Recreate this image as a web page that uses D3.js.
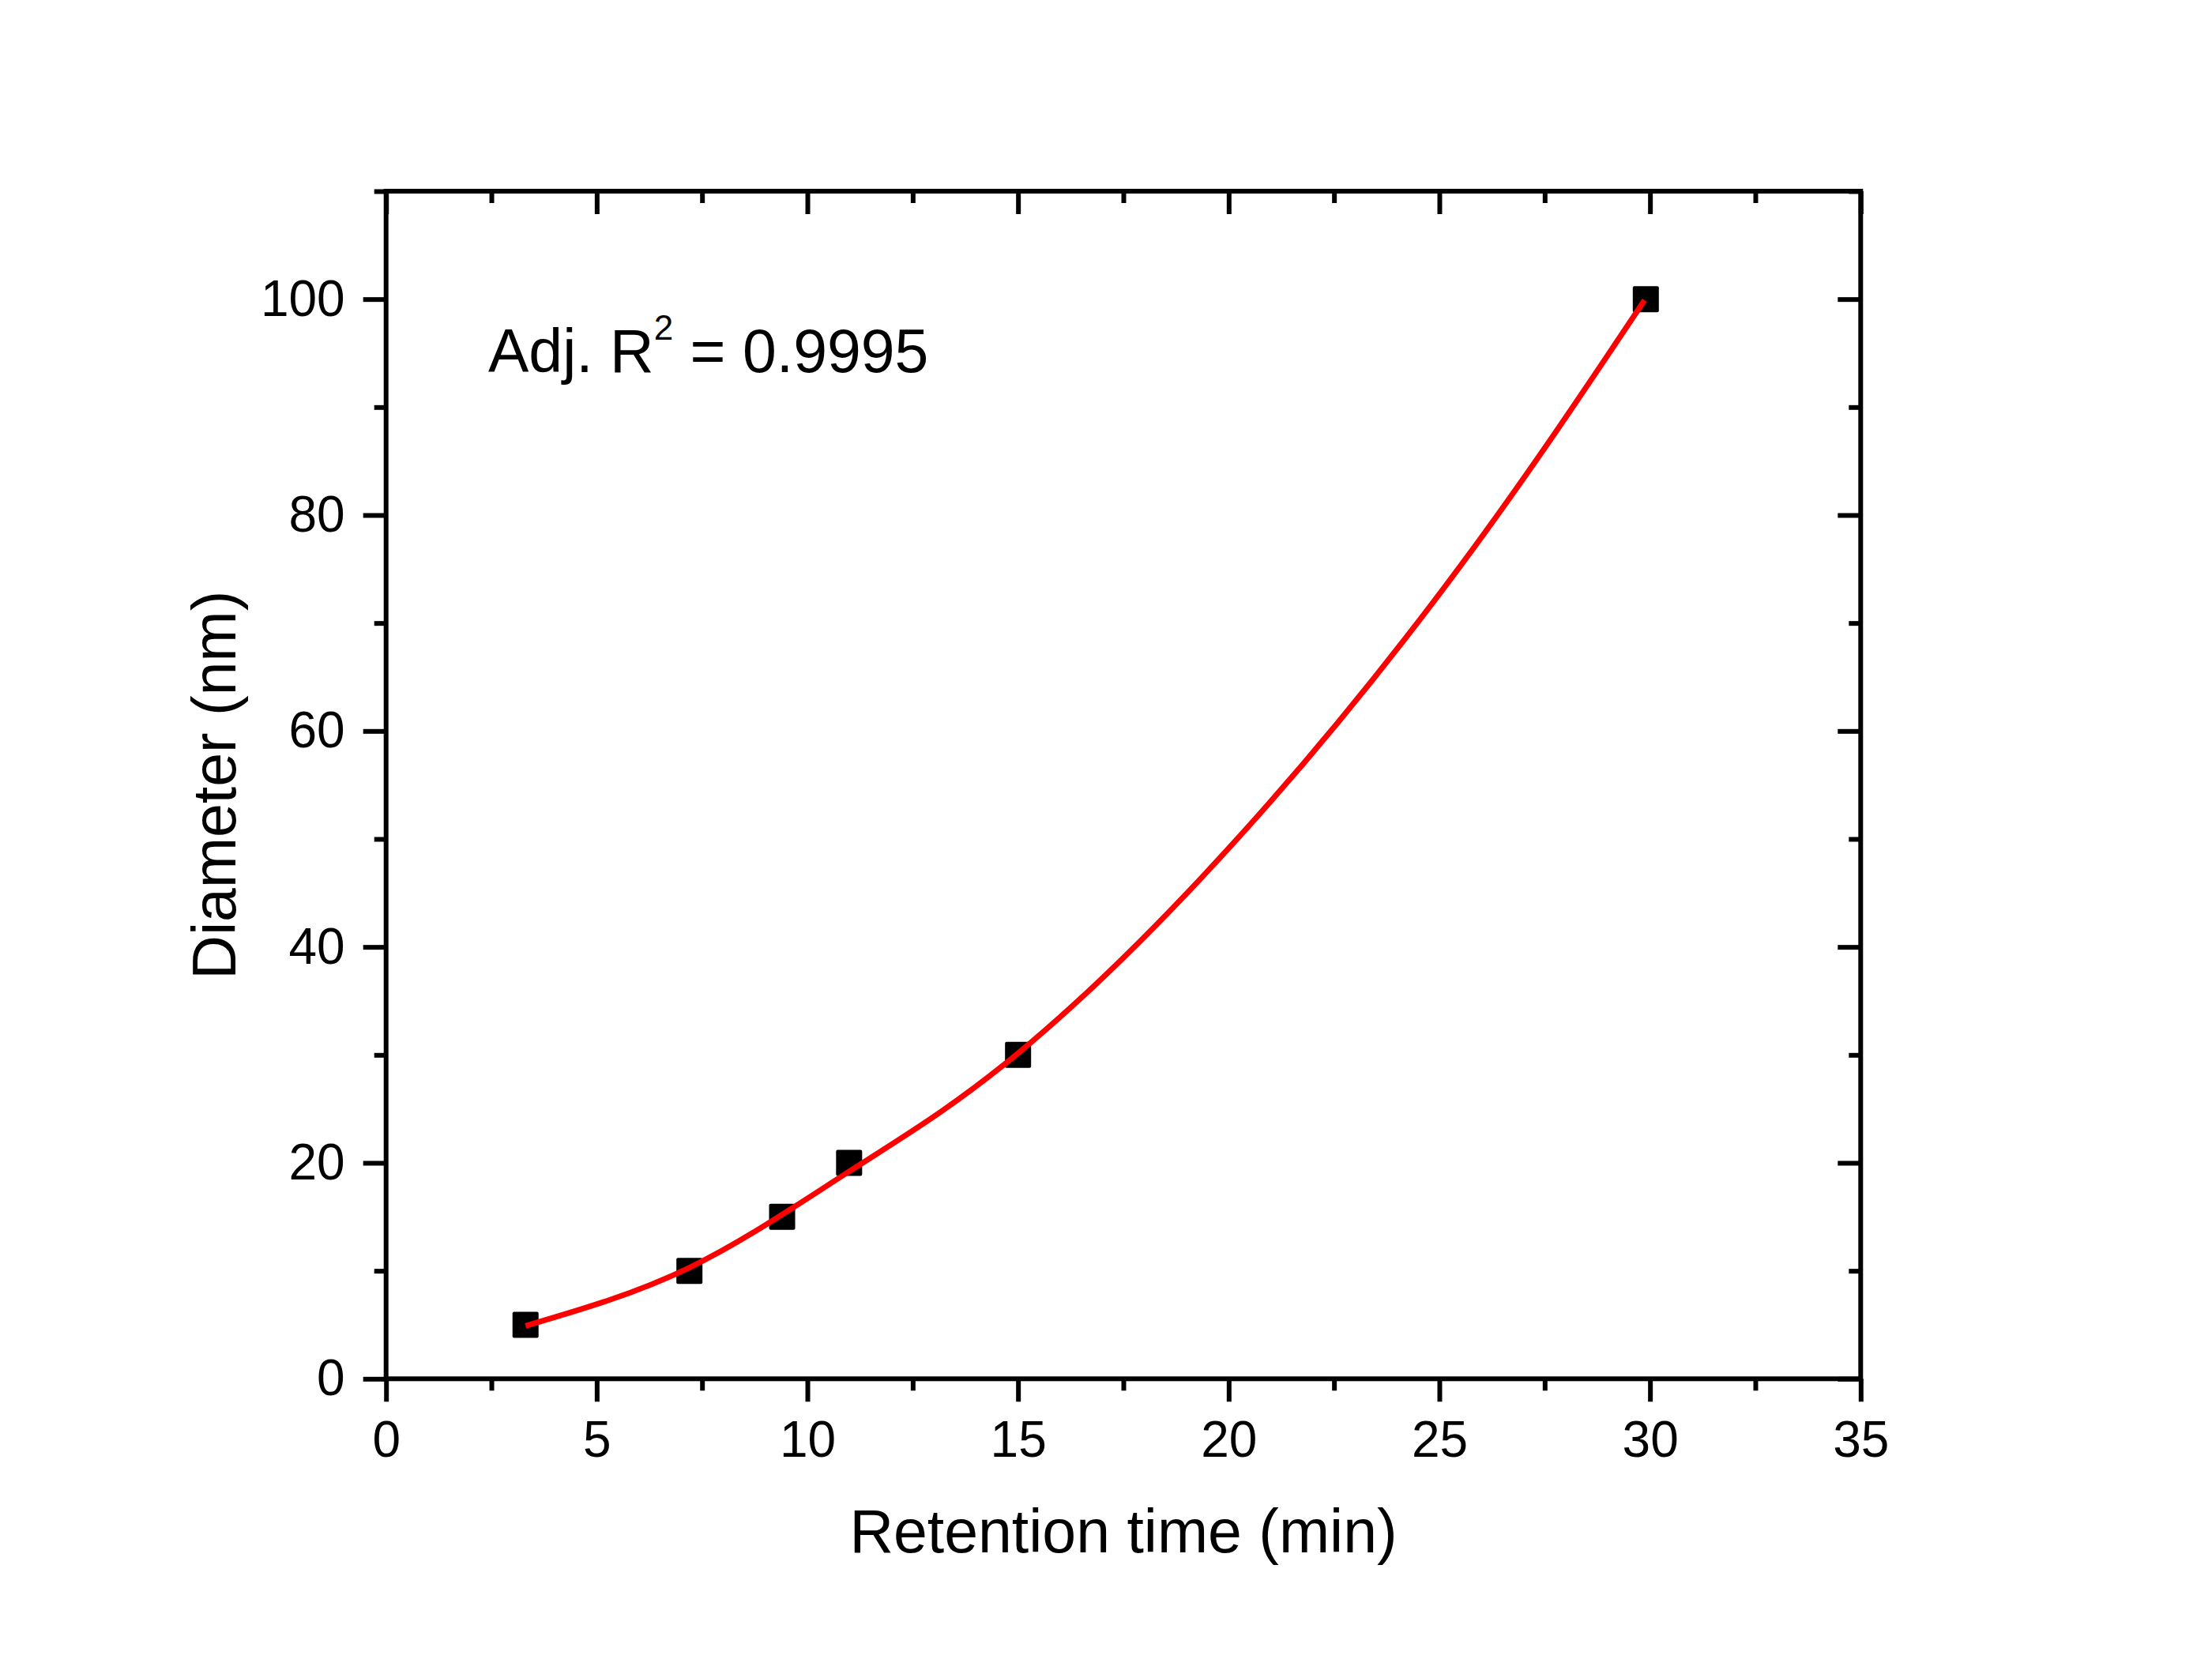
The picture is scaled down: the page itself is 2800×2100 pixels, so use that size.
<!DOCTYPE html>
<html>
<head>
<meta charset="utf-8">
<script src="https://cdn.jsdelivr.net/npm/d3@7"></script>
<style>
  html, body { margin: 0; padding: 0; background: #fff; }
  text { font-family: "Liberation Sans", Arial, sans-serif; fill: #000; }
</style>
</head>
<body>
<svg id="chart"></svg>
<script>
// measured points (retention time vs diameter)
const retentionTime = [3.31, 7.2, 9.4, 10.99, 15.0, 29.9];
const diameter = [5, 10, 15, 20, 30, 100];

// red fit curve
const fitX = [3.31, 7.2, 10.99, 15.0, 20.27, 25.52, 29.87];
const fitY = [4.9, 10.3, 19.2, 30.15, 50.3, 75.4, 99.9];

const xMajor = [0, 5, 10, 15, 20, 25, 30, 35];
const xMinor = [2.5, 7.5, 12.5, 17.5, 22.5, 27.5, 32.5];
const yMajor = [0, 20, 40, 60, 80, 100];
const yMinor = [10, 30, 50, 70, 90, 110];

const W = 2800, H = 2100;
const plotL = 488.7, plotR = 2355.3, plotT = 242, plotB = 1745.3;
const majorLen = 29, minorLen = 15, lineW = 6;

const svg = d3.select("#chart")
    .attr("width", W)
    .attr("height", H);

svg.append("rect").attr("width", W).attr("height", H).attr("fill", "#fff");

const x = d3.scaleLinear().domain([0, 35]).range([plotL, plotR]);
const y = d3.scaleLinear().domain([0, 110]).range([plotB, plotT]);

// helper to draw one tick set
function ticks(axisFn, scale, values, len, pad, labels, transform) {
    const g = svg.append("g")
        .attr("transform", transform)
        .call(axisFn(scale)
            .tickValues(values)
            .tickSize(len)
            .tickSizeOuter(0)
            .tickPadding(pad)
            .tickFormat(labels ? d3.format("d") : ""));
    g.select(".domain").remove();
    g.selectAll("line").attr("stroke", "#000").attr("stroke-width", lineW);
    g.selectAll("text").attr("font-size", 64).attr("font-family", null).attr("fill", "#000");
    return g;
}

// bottom + left: outward ticks with labels
ticks(d3.axisBottom, x, xMajor, majorLen, 24.7, true, `translate(0,${plotB})`);
ticks(d3.axisBottom, x, xMinor, minorLen, 0, false, `translate(0,${plotB})`);
ticks(d3.axisLeft, y, yMajor, majorLen, 23, true, `translate(${plotL},0)`);
ticks(d3.axisLeft, y, yMinor, minorLen, 0, false, `translate(${plotL},0)`);

// top + right: inward ticks, no labels
ticks(d3.axisBottom, x, xMajor, majorLen, 0, false, `translate(0,${plotT})`);
ticks(d3.axisBottom, x, xMinor, minorLen, 0, false, `translate(0,${plotT})`);
ticks(d3.axisLeft, y, yMajor, majorLen, 0, false, `translate(${plotR},0)`);
ticks(d3.axisLeft, y, yMinor, minorLen, 0, false, `translate(${plotR},0)`);

// frame
svg.append("rect")
    .attr("x", plotL).attr("y", plotT)
    .attr("width", plotR - plotL).attr("height", plotB - plotT)
    .attr("fill", "none")
    .attr("stroke", "#000")
    .attr("stroke-width", lineW);

// data squares
const pts = retentionTime.map((t, i) => ({ t, d: diameter[i] }));
const sq = 33;
svg.append("g").selectAll("rect")
    .data(pts)
    .join("rect")
    .attr("x", p => x(p.t) - sq / 2)
    .attr("y", p => y(p.d) - sq / 2)
    .attr("width", sq).attr("height", sq)
    .attr("rx", 2)
    .attr("fill", "#000");

// fit curve
const fit = fitX.map((t, i) => [t, fitY[i]]);
svg.append("path")
    .datum(fit)
    .attr("fill", "none")
    .attr("stroke", "#ff0000")
    .attr("stroke-width", 7)
    .attr("d", d3.line().x(p => x(p[0])).y(p => y(p[1])).curve(d3.curveNatural));

// axis titles
svg.append("text")
    .attr("x", (plotL + plotR) / 2)
    .attr("y", 1965)
    .attr("text-anchor", "middle")
    .attr("font-size", 77)
    .text("Retention time (min)");

svg.append("text")
    .attr("transform", `translate(298,${(plotT + plotB) / 2}) rotate(-90)`)
    .attr("text-anchor", "middle")
    .attr("font-size", 77)
    .text("Diameter (nm)");

// R² annotation
const note = svg.append("text")
    .attr("x", 618)
    .attr("y", 470.7)
    .attr("font-size", 77);
note.append("tspan").text("Adj. R");
note.append("tspan").attr("font-size", 44).attr("dy", -41).text("2");
note.append("tspan").attr("dy", 41).text(" = 0.9995");
</script>
</body>
</html>
